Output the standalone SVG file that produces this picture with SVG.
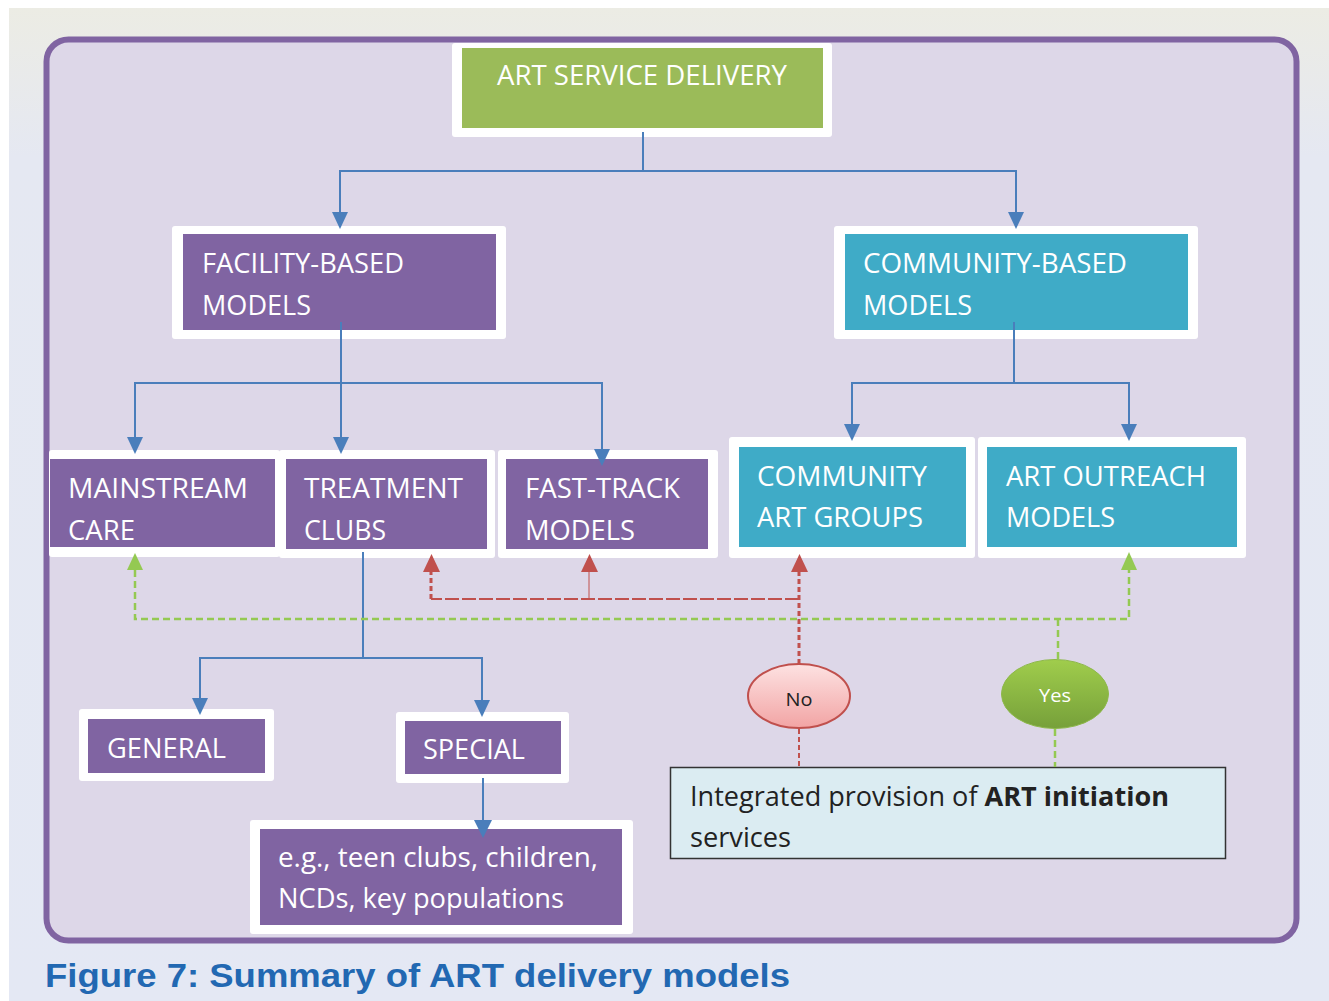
<svg xmlns="http://www.w3.org/2000/svg" width="1329" height="1001" viewBox="0 0 1329 1001">
  <defs>
    <linearGradient id="pageBg" x1="0" y1="0" x2="0" y2="1">
      <stop offset="0" stop-color="#ecece4"/>
      <stop offset="0.15" stop-color="#e5e8f2"/>
      <stop offset="1" stop-color="#e4e8f4"/>
    </linearGradient>
    <linearGradient id="noFill" x1="0" y1="0" x2="0" y2="1">
      <stop offset="0" stop-color="#fde2e2"/>
      <stop offset="1" stop-color="#f2a4a4"/>
    </linearGradient>
    <linearGradient id="yesFill" x1="0" y1="0" x2="0" y2="1">
      <stop offset="0" stop-color="#a0cd4c"/>
      <stop offset="1" stop-color="#76a03a"/>
    </linearGradient>
    <style>
      .frame { fill: #fff; }
      .purple { fill: #8064a2; }
      .teal { fill: #3fabc7; }
      .green { fill: #9bbb59; }
      .lbl { font-family: "Open Sans", "Noto Sans", "Liberation Sans", sans-serif; font-size: 27px; fill: #fff; }
      .blue { stroke: #4a7ebb; stroke-width: 2; fill: none; }
      .bhead { fill: #4a7ebb; }
      .red { stroke: #c0504d; fill: none; }
      .rhead { fill: #c0504d; }
      .grn { stroke: #94c952; fill: none; stroke-width: 2.5; stroke-dasharray: 7 4; }
      .ghead { fill: #94c952; }
    </style>
  </defs>

  <!-- page and panel -->
  <rect x="0" y="0" width="1329" height="1001" fill="#fff"/>
  <rect x="9" y="8" width="1320" height="993" fill="url(#pageBg)"/>
  <rect x="46.5" y="39.5" width="1250" height="901" rx="22" fill="#ddd7e8" stroke="#8064a2" stroke-width="6"/>

  <!-- nodes -->
  <g id="art-service-delivery">
    <rect class="frame" x="452" y="43" width="380" height="94" rx="3"/>
    <rect class="green" x="462" y="48" width="361" height="80"/>
    <text class="lbl" x="497" y="85" textLength="290" lengthAdjust="spacingAndGlyphs">ART SERVICE DELIVERY</text>
  </g>

  <g id="facility-based">
    <rect class="frame" x="172" y="226" width="334" height="113" rx="3"/>
    <rect class="purple" x="183" y="234" width="313" height="96"/>
    <text class="lbl" x="202" y="273" textLength="202" lengthAdjust="spacingAndGlyphs">FACILITY-BASED</text>
    <text class="lbl" x="202" y="315" textLength="109" lengthAdjust="spacingAndGlyphs">MODELS</text>
  </g>

  <g id="community-based">
    <rect class="frame" x="834" y="226" width="364" height="113" rx="3"/>
    <rect class="teal" x="845" y="234" width="343" height="96"/>
    <text class="lbl" x="863" y="273" textLength="264" lengthAdjust="spacingAndGlyphs">COMMUNITY-BASED</text>
    <text class="lbl" x="863" y="315" textLength="109" lengthAdjust="spacingAndGlyphs">MODELS</text>
  </g>

  <g id="mainstream-care">
    <rect class="frame" x="49" y="450" width="231" height="107" rx="3"/>
    <rect class="purple" x="50" y="459" width="225" height="88"/>
    <text class="lbl" x="68" y="498" textLength="180" lengthAdjust="spacingAndGlyphs">MAINSTREAM</text>
    <text class="lbl" x="68" y="540" textLength="67" lengthAdjust="spacingAndGlyphs">CARE</text>
  </g>

  <g id="treatment-clubs">
    <rect class="frame" x="279" y="450" width="216" height="108" rx="3"/>
    <rect class="purple" x="286" y="459" width="201" height="90"/>
    <text class="lbl" x="304" y="498" textLength="159" lengthAdjust="spacingAndGlyphs">TREATMENT</text>
    <text class="lbl" x="304" y="540" textLength="82" lengthAdjust="spacingAndGlyphs">CLUBS</text>
  </g>

  <g id="fast-track">
    <rect class="frame" x="498" y="450" width="220" height="108" rx="3"/>
    <rect class="purple" x="506" y="459" width="202" height="90"/>
    <text class="lbl" x="525" y="498" textLength="155" lengthAdjust="spacingAndGlyphs">FAST-TRACK</text>
    <text class="lbl" x="525" y="540" textLength="110" lengthAdjust="spacingAndGlyphs">MODELS</text>
  </g>

  <g id="community-art-groups">
    <rect class="frame" x="729" y="437" width="246" height="121" rx="3"/>
    <rect class="teal" x="739" y="447" width="227" height="100"/>
    <text class="lbl" x="757" y="486" textLength="170" lengthAdjust="spacingAndGlyphs">COMMUNITY</text>
    <text class="lbl" x="757" y="527" textLength="166" lengthAdjust="spacingAndGlyphs">ART GROUPS</text>
  </g>

  <g id="art-outreach">
    <rect class="frame" x="978" y="437" width="268" height="121" rx="3"/>
    <rect class="teal" x="987" y="447" width="250" height="100"/>
    <text class="lbl" x="1006" y="486" textLength="200" lengthAdjust="spacingAndGlyphs">ART OUTREACH</text>
    <text class="lbl" x="1006" y="527" textLength="109" lengthAdjust="spacingAndGlyphs">MODELS</text>
  </g>

  <g id="general">
    <rect class="frame" x="79" y="709" width="195" height="72" rx="3"/>
    <rect class="purple" x="88" y="719" width="177" height="54"/>
    <text class="lbl" x="107" y="758" textLength="119" lengthAdjust="spacingAndGlyphs">GENERAL</text>
  </g>

  <g id="special">
    <rect class="frame" x="396" y="712" width="173" height="71" rx="3"/>
    <rect class="purple" x="405" y="721" width="156" height="53"/>
    <text class="lbl" x="423" y="759" textLength="102" lengthAdjust="spacingAndGlyphs">SPECIAL</text>
  </g>

  <g id="special-examples">
    <rect class="frame" x="250" y="820" width="383" height="114" rx="3"/>
    <rect class="purple" x="260" y="829" width="362" height="96"/>
    <text class="lbl" x="278" y="867" textLength="320" lengthAdjust="spacingAndGlyphs">e.g., teen clubs, children,</text>
    <text class="lbl" x="278" y="908" textLength="286" lengthAdjust="spacingAndGlyphs">NCDs, key populations</text>
  </g>

  <g id="decision-no">
    <ellipse cx="799" cy="696" rx="51" ry="32" fill="url(#noFill)" stroke="#c0504d" stroke-width="2"/>
    <text x="799" y="706" text-anchor="middle" font-family="Open Sans, Noto Sans, sans-serif" font-size="19" fill="#222" textLength="27" lengthAdjust="spacingAndGlyphs">No</text>
  </g>

  <g id="decision-yes">
    <ellipse cx="1055" cy="694" rx="53.5" ry="34.5" fill="url(#yesFill)" stroke="#8db84a" stroke-width="1"/>
    <text x="1055" y="702" text-anchor="middle" font-family="Open Sans, Noto Sans, sans-serif" font-size="19" fill="#fff" textLength="32" lengthAdjust="spacingAndGlyphs">Yes</text>
  </g>

  <g id="art-initiation">
    <rect x="670.5" y="767.5" width="555" height="91" fill="#dbecf2" stroke="#333" stroke-width="1.5"/>
    <text x="690" y="806" font-family="Open Sans, Noto Sans, sans-serif" font-size="27" fill="#222" textLength="479" lengthAdjust="spacingAndGlyphs">Integrated provision of <tspan font-weight="bold">ART initiation</tspan></text>
    <text x="690" y="847" font-family="Open Sans, Noto Sans, sans-serif" font-size="27" fill="#222" textLength="101" lengthAdjust="spacingAndGlyphs">services</text>
  </g>

  <!-- connectors, drawn over the node frames -->
  <g id="connectors">
    <!-- root split -->
    <polyline class="blue" stroke-width="1.5" points="643,132 643,171"/>
    <polyline class="blue" stroke-width="1.5" points="340,212 340,171 1016,171 1016,212"/>
    <path class="bhead" d="M332,212 L348,212 L340,229 Z"/>
    <path class="bhead" d="M1008,212 L1024,212 L1016,229 Z"/>

    <!-- facility split -->
    <polyline class="blue" points="341,322 341,437"/>
    <polyline class="blue" points="135,437 135,383 602,383 602,449"/>
    <path class="bhead" d="M127,437 L143,437 L135,454 Z"/>
    <path class="bhead" d="M333,437 L349,437 L341,454 Z"/>
    <path class="bhead" d="M594,449 L610,449 L602,466 Z"/>

    <!-- community split -->
    <polyline class="blue" points="1014,322 1014,383"/>
    <polyline class="blue" points="852,424 852,383 1129,383 1129,424"/>
    <path class="bhead" d="M844,424 L860,424 L852,441 Z"/>
    <path class="bhead" d="M1121,424 L1137,424 L1129,441 Z"/>

    <!-- treatment clubs split -->
    <polyline class="blue" points="363,552 363,658"/>
    <polyline class="blue" points="200,698 200,658 482,658 482,700"/>
    <path class="bhead" d="M192,698 L208,698 L200,715 Z"/>
    <path class="bhead" d="M474,700 L490,700 L482,717 Z"/>

    <!-- special to examples -->
    <line class="blue" stroke-width="4" x1="483" y1="778" x2="483" y2="821"/>
    <path class="bhead" d="M474,820 L492,820 L483,838 Z"/>

    <!-- "No" branch -->
    <line class="red" stroke-width="3" stroke-dasharray="5 3" x1="799" y1="664" x2="799" y2="572"/>
    <polyline class="red" stroke-width="2" stroke-dasharray="14 3" points="799,599 431,599"/>
    <line class="red" stroke-width="3" stroke-dasharray="5 3" x1="431" y1="599" x2="431" y2="572"/>
    <line class="red" stroke-width="1" x1="589" y1="599" x2="589" y2="572"/>
    <path class="rhead" d="M791,572 L808,572 L799.5,554 Z"/>
    <path class="rhead" d="M423,572 L440,572 L431.5,554 Z"/>
    <path class="rhead" d="M581,572 L598,572 L589.5,554 Z"/>
    <line class="red" stroke-width="2" stroke-dasharray="5 3" x1="799" y1="729" x2="799" y2="767"/>

    <!-- "Yes" branch -->
    <polyline class="grn" points="135,570 135,619 1129,619 1129,570"/>
    <line class="grn" stroke-width="1.5" stroke-dasharray="none" x1="1058" y1="619" x2="1058" y2="660"/>
    <path class="ghead" d="M127,570 L143,570 L135,553 Z"/>
    <path class="ghead" d="M1121,570 L1137,570 L1129,552 Z"/>
    <line class="grn" stroke-width="2" stroke-dasharray="5 3" x1="1055" y1="729" x2="1055" y2="767"/>
  </g>

  <!-- caption -->
  <text x="45" y="987" font-family="Liberation Sans, Arial, sans-serif" font-weight="bold" font-size="34" fill="#2268b2" textLength="745" lengthAdjust="spacingAndGlyphs">Figure 7: Summary of ART delivery models</text>
</svg>
